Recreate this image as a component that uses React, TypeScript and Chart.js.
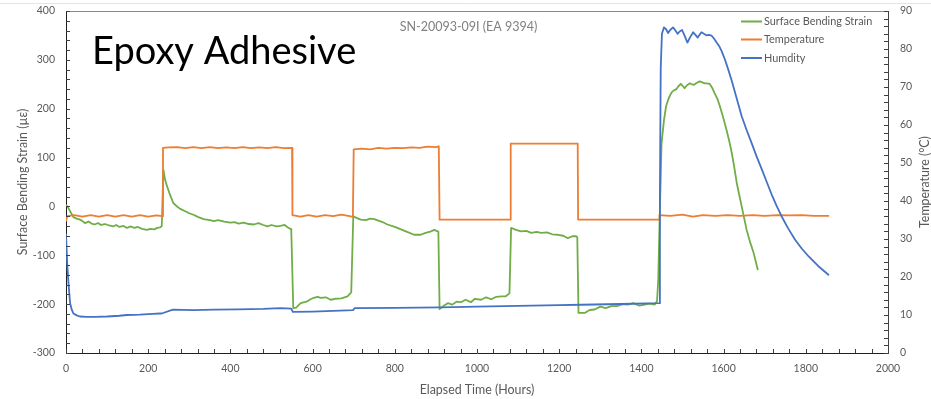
import React, { useEffect, useRef } from "react";
import { Chart, registerables } from "chart.js";

Chart.register(...registerables);

// ---------- data ----------
const seriesNames = ["Surface Bending Strain", "Temperature", "Humdity"];
const seriesColors = ["#70AD47", "#ED7D31", "#4472C4"];

const strainHours = [
  0, 5, 10, 18, 26, 34, 40, 46, 55, 62, 70, 78, 85, 95, 105, 115, 122, 130, 140, 148, 158, 166, 175, 185, 197, 205, 215, 222, 229, 233,
  237, 241, 246, 253, 261, 270, 278, 290, 300, 310, 322, 335, 350, 360, 370, 385, 400, 410, 420, 432, 445, 457, 468, 480, 490, 500, 512, 522, 532, 540, 546, 548,
  553, 560, 571, 585, 595, 603, 612, 620, 632, 644, 655, 670, 685, 694,
  699, 708, 717, 730, 740, 750, 760, 770, 782, 800, 815, 830, 847, 863, 875, 888, 896, 904, 906,
  909, 918, 929, 940, 950, 961, 972, 985, 995, 1010, 1022, 1035, 1047, 1059, 1070, 1079,
  1083, 1095, 1107, 1120, 1132, 1145, 1156, 1170, 1183, 1197, 1210, 1221, 1232, 1241, 1244,
  1247, 1262, 1274, 1286, 1300, 1313, 1327, 1340, 1355, 1367, 1380, 1395, 1408, 1420, 1432, 1438,
  1441, 1444, 1447, 1449, 1455, 1460, 1465, 1470, 1475, 1480, 1485, 1490, 1496, 1500, 1505, 1511, 1518, 1523, 1528, 1535, 1542, 1548, 1554, 1560, 1566,
  1572, 1578, 1585, 1591, 1599, 1607, 1614, 1620, 1626, 1632, 1638, 1644, 1650, 1656, 1664, 1673, 1683,
];
const strainValues = [
  3, -2, -10, -22, -25, -27, -30, -34, -31, -35, -37, -34, -38, -36, -39, -41, -38, -42, -40, -44, -41, -44, -42, -46, -48, -46, -47, -44, -43, -40,
  75, 55, 41, 24, 7, 0, -5, -10, -14, -17, -22, -26, -28, -30, -28, -31, -33, -32, -35, -33, -36, -37, -34, -38, -41, -38, -41, -40, -38, -43, -46, -46,
  -208, -207, -198, -195, -190, -187, -185, -187, -186, -191, -189, -188, -184, -176,
  -20, -24, -27, -28, -25, -26, -29, -32, -37, -42, -47, -52, -58, -58, -54, -51, -48, -51, -52,
  -210, -204, -198, -201, -195, -196, -191, -196, -189, -191, -186, -190, -185, -184, -184, -178,
  -44, -48, -51, -50, -54, -52, -54, -53, -57, -58, -60, -65, -61, -61, -63,
  -218, -218, -212, -211, -205, -208, -204, -204, -200, -201, -198, -203, -201, -199, -201, -194,
  -150, -40, 60, 129, 177, 205, 218, 228, 235, 238, 240, 246, 251, 247, 242, 248, 252, 250, 249, 253, 256, 254, 252, 252, 251,
  243, 232, 220, 205, 182, 157, 133, 109, 80, 48, 24, 0, -24, -48, -72, -95, -129,
];

const tempHours = [
  0, 3, 20, 40, 60, 80, 100, 120, 140, 160, 180, 200, 220, 234,
  236, 250, 270, 290, 310, 330, 350, 370, 390, 410, 430, 450, 470, 490, 510, 530, 550,
  551, 570, 590, 610, 630, 650, 670, 690, 698,
  700, 720, 740, 760, 780, 800, 820, 840, 860, 880, 900, 907,
  909, 1081, 1082, 1245, 1246, 1443,
  1444, 1470, 1500, 1525, 1550, 1580, 1610, 1640, 1670, 1700, 1730, 1760, 1790, 1820, 1855,
];
const tempValues = [
  34.8, 36.0, 36.3, 35.9, 36.3, 35.9, 36.3, 35.9, 36.3, 35.9, 36.3, 35.9, 36.2, 36.0,
  54.0, 54.1, 54.2, 53.9, 54.2, 53.9, 54.2, 53.9, 54.1, 53.9, 54.2, 53.9, 54.1, 53.9, 54.2, 53.9, 54.0,
  36.3, 35.9, 36.3, 35.9, 36.3, 36.0, 36.4, 36.0, 35.8,
  53.6, 53.8, 53.6, 54.0, 53.8, 54.0, 53.9, 54.1, 54.0, 54.3, 54.2, 54.4,
  35.1, 35.1, 55.1, 55.1, 35.1, 35.1,
  36.3, 36.1, 36.4, 35.9, 36.3, 36.1, 36.3, 36.1, 36.3, 36.1, 36.3, 36.2, 36.3, 36.1, 36.1,
];

const humHours = [
  0, 3, 6, 10, 14, 18, 26, 34, 50, 70, 100, 130, 148, 180, 210, 229, 233,
  260, 310, 360, 420, 480, 522, 548, 552, 600, 650, 699, 702, 800, 912, 1000, 1100, 1200, 1254, 1350, 1443,
  1445, 1447, 1450, 1455, 1460, 1465, 1470, 1477, 1482, 1488, 1493, 1499, 1505, 1512, 1518, 1526, 1531, 1537, 1542, 1546, 1552, 1558, 1564, 1571, 1577, 1583, 1589, 1595,
  1603, 1611, 1620, 1628, 1636, 1644, 1656, 1668, 1680, 1693, 1705, 1717, 1729, 1741, 1757, 1774, 1790, 1807, 1830, 1855,
];
const humValues = [
  31.3, 23.5, 18.4, 13.1, 11.4, 10.4, 9.9, 9.6, 9.5, 9.5, 9.6, 9.8, 10.0, 10.1, 10.3, 10.4, 10.4,
  11.4, 11.3, 11.4, 11.5, 11.6, 11.8, 11.7, 10.8, 10.9, 11.1, 11.3, 11.8, 11.9, 12.0, 12.2, 12.4, 12.6, 12.7, 12.9, 13.1,
  40, 75, 84, 85.7, 85.2, 84.2, 85.0, 85.7, 85.0, 84.0, 84.6, 85.0, 83.5, 81.7, 83.0, 84.4, 83.8, 83.0, 83.8, 84.4, 84.0, 83.6, 83.7, 83.5, 82.7, 81.7, 80.8, 79.5,
  77.3, 74.7, 71.6, 68.5, 65.4, 62.3, 58.7, 55.3, 51.8, 48.3, 45.0, 41.7, 38.7, 36.0, 32.8, 29.8, 27.5, 25.4, 22.9, 20.6,
];

const xMin = 0, xMax = 2000, xStep = 200, xMinorStep = 40;
const yMin = -300, yMax = 400, yStep = 100, yMinorStep = 20;
const y1Min = 0, y1Max = 90, y1Step = 10, y1MinorStep = 2;

const mainTitle = "Epoxy Adhesive";
const subTitle = "SN-20093-09I (EA 9394)";
const xTitle = "Elapsed Time (Hours)";
const yTitle = "Surface Bending Strain (\u00B5\u03B5)";
const y1Title = "Temperature (\u00B0C)";

const FONT = "Lato, 'Open Sans', sans-serif";
const TXT = "#595959";

const toPoints = (xs: number[], ys: number[]) => xs.map((x, i) => ({ x, y: ys[i] }));
const plainLabel = (v: any) => String(v);

const decorPlugin = {
  id: "decor",
  afterDraw(chart: any) {
    const { ctx, chartArea: ca, scales } = chart;
    ctx.save();
    // faint outer chart border
    ctx.strokeStyle = "#e4e4e4";
    ctx.lineWidth = 1;
    ctx.beginPath();
    ctx.moveTo(0, 3.5);
    ctx.lineTo(chart.width, 3.5);
    ctx.stroke();
    // top border of plot area
    ctx.strokeStyle = "#8a8a8a";
    ctx.beginPath();
    ctx.moveTo(ca.left, Math.round(ca.top) + 0.5);
    ctx.lineTo(ca.right, Math.round(ca.top) + 0.5);
    ctx.stroke();

    // inward tick marks
    ctx.strokeStyle = "#404040";
    ctx.lineWidth = 1;
    const tl = 4;
    const xs = scales.x;
    ctx.beginPath();
    for (let v = xMin; v <= xMax + 0.001; v += xMinorStep) {
      const px = Math.round(xs.getPixelForValue(v)) + 0.5;
      ctx.moveTo(px, ca.bottom);
      ctx.lineTo(px, ca.bottom - tl);
    }
    const ys = scales.y;
    for (let v = yMin; v <= yMax + 0.001; v += yMinorStep) {
      const py = Math.round(ys.getPixelForValue(v)) + 0.5;
      ctx.moveTo(ca.left, py);
      ctx.lineTo(ca.left + tl, py);
    }
    const y1 = scales.y1;
    for (let v = y1Min; v <= y1Max + 0.001; v += y1MinorStep) {
      const py = Math.round(y1.getPixelForValue(v)) + 0.5;
      ctx.moveTo(ca.right, py);
      ctx.lineTo(ca.right - tl, py);
    }
    ctx.stroke();

    // big label
    ctx.fillStyle = "#000000";
    ctx.font = `38px ${FONT}`;
    ctx.textAlign = "left";
    ctx.textBaseline = "alphabetic";
    ctx.fillText(mainTitle, 92, 63.5);

    // subtitle
    ctx.fillStyle = "#808080";
    ctx.font = `12.5px ${FONT}`;
    ctx.textAlign = "center";
    ctx.fillText(subTitle, 468.5, 30.5);

    // right axis title (reads bottom to top)
    ctx.fillStyle = TXT;
    ctx.font = `12.4px ${FONT}`;
    ctx.translate(925, (ca.top + ca.bottom) / 2);
    ctx.rotate(-Math.PI / 2);
    ctx.textAlign = "center";
    ctx.textBaseline = "middle";
    ctx.fillText(y1Title, 0, 0);
    ctx.setTransform(1, 0, 0, 1, 0, 0);

    // legend
    const rows = [21.5, 39.5, 58];
    ctx.font = `10.9px ${FONT}`;
    ctx.textAlign = "left";
    ctx.textBaseline = "middle";
    chart.data.datasets.forEach((ds: any, i: number) => {
      const y = rows[i];
      ctx.strokeStyle = ds.borderColor;
      ctx.lineWidth = 2;
      ctx.beginPath();
      ctx.moveTo(741, y);
      ctx.lineTo(762, y);
      ctx.stroke();
      ctx.fillStyle = TXT;
      ctx.fillText(ds.label, 764, y);
    });
    ctx.restore();
  },
};

export default function App() {
  const ref = useRef<HTMLCanvasElement | null>(null);
  useEffect(() => {
    if (!ref.current) return;
    const tickFont = { family: FONT, size: 10.5 };
    const chart = new Chart(ref.current, {
      type: "line",
      data: {
        datasets: [
          {
            label: seriesNames[0],
            data: toPoints(strainHours, strainValues),
            borderColor: seriesColors[0],
            backgroundColor: seriesColors[0],
            yAxisID: "y",
            order: 2,
          },
          {
            label: seriesNames[1],
            data: toPoints(tempHours, tempValues),
            borderColor: seriesColors[1],
            backgroundColor: seriesColors[1],
            yAxisID: "y1",
            order: 1,
          },
          {
            label: seriesNames[2],
            data: toPoints(humHours, humValues),
            borderColor: seriesColors[2],
            backgroundColor: seriesColors[2],
            yAxisID: "y1",
            order: 0,
          },
        ],
      },
      options: {
        animation: false,
        responsive: false,
        devicePixelRatio: 1,
        elements: {
          point: { radius: 0 },
          line: { borderWidth: 1.8, tension: 0, borderJoinStyle: "round", borderCapStyle: "round" },
        },
        layout: { padding: { top: 11, left: 0, right: 0, bottom: 0 } },
        plugins: {
          legend: { display: false },
          tooltip: { enabled: false },
          title: { display: false },
        },
        scales: {
          x: {
            type: "linear",
            min: xMin,
            max: xMax,
            ticks: { stepSize: xStep, font: tickFont, color: TXT, padding: 9, maxRotation: 0, callback: plainLabel },
            grid: { display: false, drawTicks: false },
            border: { display: true, color: "#202020", width: 1 },
            title: { display: true, text: xTitle, color: TXT, font: { family: FONT, size: 12.4 }, padding: { top: 0, bottom: 2 } },
            afterFit: (s: any) => { s.height = 46; },
          },
          y: {
            type: "linear",
            position: "left",
            min: yMin,
            max: yMax,
            ticks: { stepSize: yStep, font: tickFont, color: TXT, padding: 11, callback: plainLabel },
            grid: { display: false, drawTicks: false },
            border: { display: true, color: "#202020", width: 1 },
            title: { display: true, text: yTitle, color: TXT, font: { family: FONT, size: 12.4 }, padding: { top: 15.5, bottom: 0 } },
            afterFit: (s: any) => { s.width = 66; s.paddingTop = 0; s.paddingBottom = 0; },
          },
          y1: {
            type: "linear",
            position: "right",
            min: y1Min,
            max: y1Max,
            ticks: { stepSize: y1Step, font: tickFont, color: TXT, padding: 12, callback: plainLabel },
            grid: { display: false, drawTicks: false },
            border: { display: true, color: "#404040", width: 1 },
            title: { display: false },
            afterFit: (s: any) => { s.width = 43; s.paddingTop = 0; s.paddingBottom = 0; },
          },
        },
      },
      plugins: [decorPlugin],
    } as any);
    return () => chart.destroy();
  }, []);
  return (
    <div style={{ position: "fixed", left: 0, top: 0, width: 931, height: 399, background: "#ffffff" }}>
      <canvas ref={ref} width={931} height={399} style={{ display: "block" }} />
    </div>
  );
}
